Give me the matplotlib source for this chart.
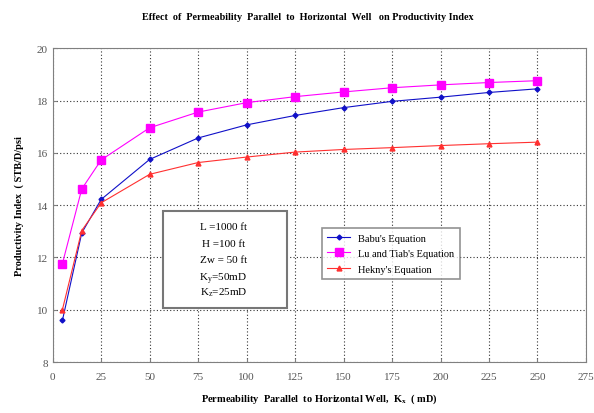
import matplotlib
matplotlib.use("Agg")
import matplotlib.pyplot as plt
from matplotlib.patches import Rectangle

plt.rcParams["font.family"] = ["Liberation Serif", "DejaVu Serif"]
plt.rcParams["mathtext.fontset"] = "custom"
plt.rcParams["mathtext.rm"] = "Liberation Serif"
plt.rcParams["mathtext.it"] = "Liberation Serif"
plt.rcParams["mathtext.bf"] = "Liberation Serif:bold"

# permeability parallel to well, mD
kx = [5, 15, 25, 50, 75, 100, 125, 150, 175, 200, 225, 250]
babu = [9.59, 12.94, 14.22, 15.75, 16.57, 17.07, 17.43, 17.73, 17.97, 18.13, 18.31, 18.45]
lu_tiab = [11.76, 14.62, 15.73, 16.96, 17.56, 17.92, 18.15, 18.33, 18.49, 18.6, 18.69, 18.76]
hekny = [10.0, 13.03, 14.09, 15.18, 15.63, 15.84, 16.03, 16.13, 16.2, 16.28, 16.35, 16.41]

params = ["L =1000 ft", "H =100 ft", "Zw = 50 ft",
          r"K$_\mathrm{y}$=50mD", r"K$_\mathrm{z}$=25mD"]

fig = plt.figure(figsize=(5.94, 4.14), dpi=100)
ax = fig.add_axes([0.0887, 0.123, 0.8978, 0.758])

ax.plot(kx, babu, color="#1010c8", lw=0.8, marker="D", ms=2.5, label="Babu's Equation")
ax.plot(kx, lu_tiab, color="#ff00ff", lw=0.8, marker="s", ms=5.5, label="Lu and Tiab's Equation")
ax.plot(kx, hekny, color="#ff3030", lw=0.8, marker="^", ms=3.5, label="Hekny's Equation")

ax.set_xlim(0, 275)
ax.set_ylim(8, 20)
ax.set_xticks(range(0, 276, 25))
ax.set_yticks(range(8, 21, 2))
ax.grid(True, color="#333333", linestyle=(0, (1, 2)), linewidth=0.8)
for s in ax.spines.values():
    s.set_color("#808080")
ax.tick_params(labelsize=8, labelcolor="#555555", color="#808080", length=3, direction="in")
ax.tick_params(axis="x", pad=7)

fig.text(0.518, 0.958, "Effect  of  Permeability  Parallel  to  Horizontal  Well   on Productivity Index",
         ha="center", va="center", fontsize=7.3, fontweight="bold")
ax.set_xlabel(r"Permeability  Parallel  to Horizontal Well,  K$_\mathbf{x}$  ( mD)",
              fontsize=7.5, fontweight="bold", labelpad=8)
ax.set_ylabel("Productivity Index  ( STB/D/psi", fontsize=7.5, fontweight="bold", labelpad=9)

# parameters box
ax.add_patch(Rectangle((0.207, 0.171), 0.232, 0.312, transform=ax.transAxes,
                       facecolor="white", edgecolor="#777777", lw=1.5, zorder=4))
line_y = [0.423, 0.371, 0.32, 0.261, 0.214]
for txt, yy in zip(params, line_y):
    ax.text(0.32, yy, txt, transform=ax.transAxes, ha="center", va="baseline",
            fontsize=8, zorder=5)

leg = ax.legend(loc="upper left", bbox_to_anchor=(0.505, 0.427), borderaxespad=0,
                fontsize=7.5, frameon=True, fancybox=False, edgecolor="#777777",
                handlelength=2.2, borderpad=0.5, labelspacing=0.6)
leg.get_frame().set_linewidth(1.2)

fig.savefig("out.png", dpi=100)
